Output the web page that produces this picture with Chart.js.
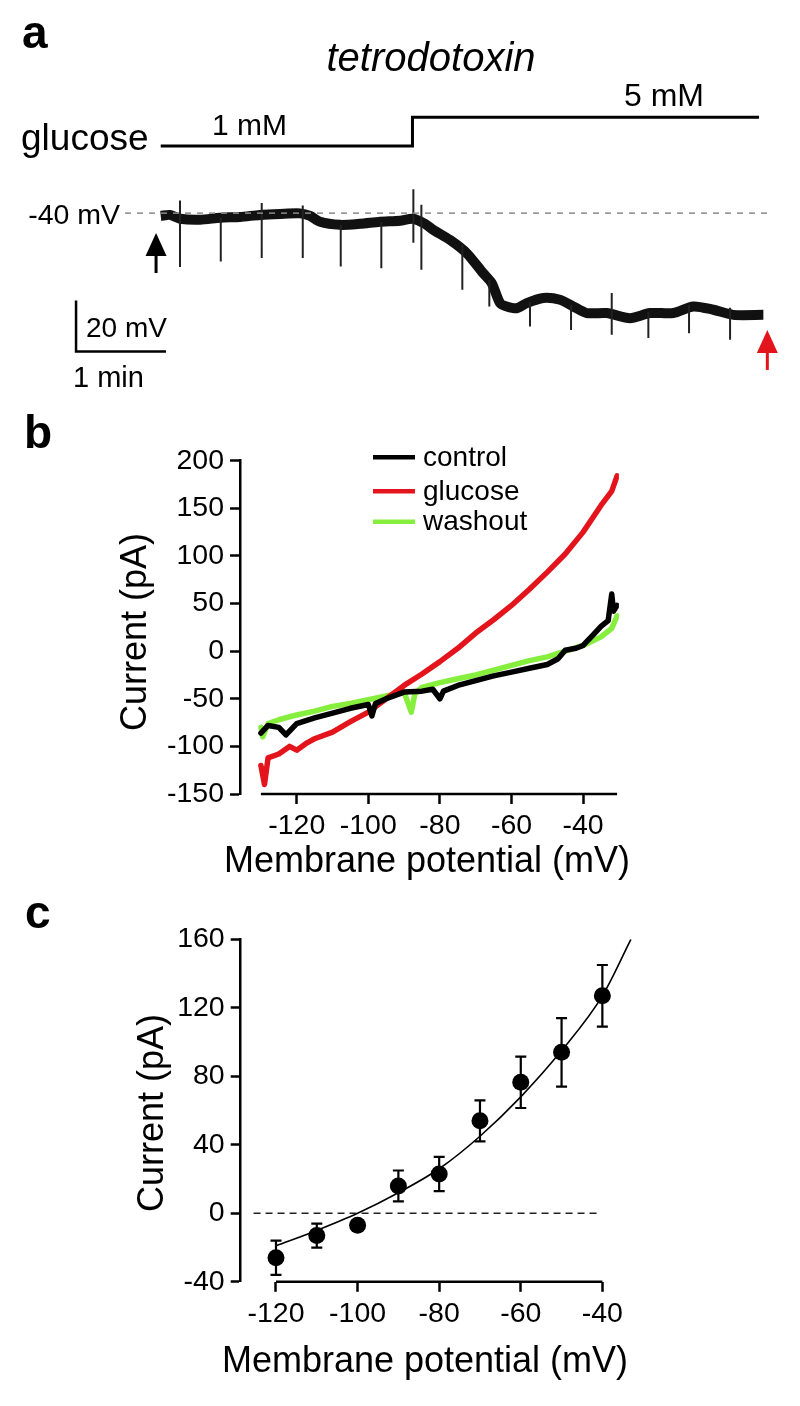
<!DOCTYPE html>
<html><head><meta charset="utf-8">
<script src="https://cdn.jsdelivr.net/npm/chart.js@4.4.1/dist/chart.umd.min.js"></script>
<style>
html,body{margin:0;padding:0;background:#fff;}
#wrap{position:relative;width:800px;height:1406px;overflow:hidden;}
canvas{position:absolute;left:0;}
</style></head><body>
<div id="wrap">
<canvas id="ca" width="800" height="400" style="top:0"></canvas>
<canvas id="cb" width="800" height="480" style="top:400px"></canvas>
<canvas id="cc" width="800" height="526" style="top:880px"></canvas>
</div>
<script>
const FONT = "'Liberation Sans', Arial, Helvetica, sans-serif";

// ---------- Panel a : membrane potential trace ----------
const traceTime = [0, 0.103, 0.214, 0.437, 0.659, 0.881, 1.103, 1.326, 1.548, 1.659, 1.770, 1.992, 2.214, 2.437, 2.659, 2.803, 2.937, 3.026, 3.214, 3.400, 3.581, 3.678, 3.770, 3.844, 3.956, 4.067, 4.251, 4.437, 4.584, 4.733, 4.956, 5.214, 5.437, 5.696, 5.918, 6.140, 6.362, 6.696];
const traceMv = [-41.1, -40.7, -42.2, -42.6, -41.8, -41.5, -40.7, -40.3, -40.1, -41.1, -43.4, -44.6, -44.2, -43.4, -43.0, -42.2, -44.2, -46.5, -50.5, -55.7, -63.5, -67.5, -75.3, -76.6, -77.3, -75.3, -73.3, -74.0, -76.6, -79.2, -79.2, -81.2, -79.2, -79.2, -76.6, -77.9, -79.9, -79.9];
const spikeTime = [0.214, 0.667, 1.122, 1.578, 2.0, 2.451, 2.807, 2.896, 3.351, 3.651, 4.103, 4.559, 5.011, 5.418, 5.870, 6.326];
const spikeTopMv = [-35, -41.8, -36, -37, -44.6, -43.4, -30.6, -36.7, -52.4, -66.2, -74.8, -76.0, -71.3, -78.7, -76.0, -77.1];
const spikeBottomMv = [-61.1, -59.0, -57.6, -57.6, -60.9, -61.6, -51.6, -62.2, -70.1, -76.6, -84.5, -85.8, -87.7, -89.0, -87.1, -89.7];
const glucoseTime = [0, 2.797, 6.648];
const glucoseMM = [1, 5, 5];
const holdingMv = -40;
const holdingLineTime = [-0.397, 6.77];

// ---------- Panel b : I-V curves ----------
const controlV = [-130,-128,-125,-123,-120,-115,-110,-105,-100,-99,-98,-95,-90,-85,-82,-80,-79,-75,-70,-65,-60,-55,-50,-47,-45,-42,-40,-37,-35,-33,-32,-31.5,-30.5];
const controlI = [-86,-78,-80,-88,-76,-70,-65,-60,-56,-68,-55,-50,-43,-42,-40,-50,-42,-36,-31,-26,-22,-18,-14,-8,1,3,6,18,26,32,60,42,48];
const glucoseV = [-130,-129,-128,-125,-122,-120,-117,-115,-110,-105,-100,-95,-90,-85,-80,-75,-70,-65,-60,-55,-50,-45,-40,-35,-32,-30.5];
const glucoseI = [-120,-140,-112,-108,-100,-104,-96,-92,-85,-74,-64,-50,-36,-24,-11,3,19,33,48,65,83,102,125,153,168,184];
const washoutV = [-130,-129.5,-128,-125,-120,-115,-110,-105,-100,-95,-90,-88,-87,-85,-80,-75,-70,-65,-60,-55,-50,-45,-40,-35,-32,-30.5];
const washoutI = [-80,-90,-76,-72,-67,-63,-58,-55,-51,-47,-43,-64,-45,-38,-33,-29,-25,-20,-15,-10,-6,0,6,15,24,37];
const bTicksX = [-120,-100,-80,-60,-40];
const bTicksY = [-150,-100,-50,0,50,100,150,200];

// ---------- Panel c : mean I-V ----------
const cVoltage = [-120,-110,-100,-90,-80,-70,-60,-50,-40];
const cCurrent = [-26,-13,-7,16,23,54,76.5,94,127];
const cSem = [10,7,3,9,10,12,15,20,18];
const fitVoltage = [-120,-110,-100,-90,-80,-70,-60,-50,-40,-33];
const fitCurrent = [-19,-10,0,12,26,45,68,95,127,160];
const zeroLineV = [-125.5,-41];
const cTicksX = [-120,-100,-80,-60,-40];
const cTicksY = [-40,0,40,80,120,160];

const pts = (xs, ys) => xs.map((x,i)=>({x, y: ys[i]}));
const baseOpts = {responsive:false, animation:false, events:[], plugins:{legend:{display:false}, tooltip:{enabled:false}}};

// ===== Panel a =====
const spikeData = [];
spikeTime.forEach((t,i)=>{ spikeData.push({x:t,y:spikeTopMv[i]},{x:t,y:spikeBottomMv[i]},{x:t,y:null}); });

function drawArrow(ctx, x, yTop, yBot, color){
  ctx.save();
  ctx.fillStyle = color; ctx.strokeStyle = color;
  ctx.beginPath(); ctx.moveTo(x, yTop); ctx.lineTo(x-10.5, yTop+23); ctx.lineTo(x+10.5, yTop+23); ctx.closePath(); ctx.fill();
  ctx.lineWidth = 3; ctx.beginPath(); ctx.moveTo(x, yTop+20); ctx.lineTo(x, yBot); ctx.stroke();
  ctx.restore();
}

const panelAPlugin = {
  id:'panelA',
  afterDatasetsDraw(chart){
    const ctx = chart.ctx, xs = chart.scales.x, ys = chart.scales.y;
    ctx.save();
    ctx.fillStyle = '#000'; ctx.textBaseline = 'alphabetic'; ctx.textAlign = 'left';
    ctx.font = `bold 46px ${FONT}`; ctx.fillText('a', 22, 48);
    ctx.font = `italic 40px ${FONT}`; ctx.textAlign = 'center'; ctx.fillText('tetrodotoxin', 431, 71);
    ctx.textAlign = 'left';
    ctx.font = `37px ${FONT}`; ctx.fillText('glucose', 21, 150);
    ctx.font = `30px ${FONT}`; ctx.fillText('1 mM', 212, 135);
    ctx.font = `32px ${FONT}`; ctx.fillText('5 mM', 624, 106);
    ctx.font = `28.5px ${FONT}`; ctx.textAlign = 'right'; ctx.fillText('-40 mV', 120, 224);
    ctx.textAlign = 'left';
    ctx.font = `28px ${FONT}`; ctx.fillText('20 mV', 86, 337);
    ctx.font = `29px ${FONT}`; ctx.fillText('1 min', 73, 387);
    // scale bar (20 mV, 1 min)
    const sbT = -0.941, sbV = -94.3;
    const x0 = xs.getPixelForValue(sbT), x1 = xs.getPixelForValue(sbT + 1);
    const y0 = ys.getPixelForValue(sbV), y1 = ys.getPixelForValue(sbV + 20);
    ctx.strokeStyle = '#000'; ctx.lineWidth = 2.5; ctx.lineCap = 'butt';
    ctx.beginPath(); ctx.moveTo(x0, y1); ctx.lineTo(x0, y0); ctx.lineTo(x1, y0); ctx.stroke();
    // arrows
    drawArrow(ctx, xs.getPixelForValue(-0.052), ys.getPixelForValue(-47.8), ys.getPixelForValue(-63.5), '#000');
    drawArrow(ctx, xs.getPixelForValue(6.74), ys.getPixelForValue(-85.8), ys.getPixelForValue(-101.5), '#e3141b');
    ctx.restore();
  }
};

new Chart(document.getElementById('ca'), {
  type:'line',
  data:{datasets:[
    {data: pts(holdingLineTime, holdingLineTime.map(()=>holdingMv)), borderColor:'#8a8a8a', borderWidth:1.5, borderDash:[6,6], pointRadius:0},
    {data: spikeData, borderColor:'#222', borderWidth:2, pointRadius:0, spanGaps:false},
    {data: pts(traceTime, traceMv), borderColor:'#111', borderWidth:10, pointRadius:0, tension:0.25, borderJoinStyle:'round', borderCapStyle:'butt'},
    {data: pts(glucoseTime, glucoseMM), yAxisID:'yG', borderColor:'#000', borderWidth:3, pointRadius:0, stepped:'before'}
  ]},
  options:{...baseOpts, layout:{padding:0},
    scales:{
      x:{type:'linear', display:false, min:-1.786, max:7.103},
      y:{type:'linear', display:false, min:-113.3, max:43.6},
      yG:{type:'linear', display:false, min:-34.28, max:21.28}
    }},
  plugins:[panelAPlugin]
});

// ===== Panel b =====
const tickStyle = {color:'#000', font:{family:FONT, size:28.5}, maxRotation:0, autoSkip:false};
const panelBPlugin = {
  id:'panelB',
  afterDraw(chart){
    const ctx = chart.ctx, xs = chart.scales.x;
    ctx.save();
    ctx.fillStyle = '#000';
    ctx.font = `bold 46px ${FONT}`; ctx.textAlign='left'; ctx.textBaseline='alphabetic';
    ctx.fillText('b', 24, 48);
    // detached x axis line over the data range
    ctx.strokeStyle = '#000'; ctx.lineWidth = 2.5;
    const yb = chart.chartArea.bottom;
    ctx.beginPath(); ctx.moveTo(xs.getPixelForValue(-130), yb); ctx.lineTo(xs.getPixelForValue(-30.5), yb); ctx.stroke();
    // titles
    ctx.font = `36px ${FONT}`; ctx.textAlign='center'; ctx.textBaseline='middle';
    ctx.fillText('Membrane potential (mV)', 427, 462);
    ctx.save(); ctx.translate(136, 232); ctx.rotate(-Math.PI/2); ctx.fillText('Current (pA)', 0, 0); ctx.restore();
    // legend
    const ly = [57.3, 91.2, 121.7];
    ctx.font = `28px ${FONT}`; ctx.textAlign='left';
    chart.data.datasets.forEach((ds,i)=>{
      ctx.strokeStyle = ds.borderColor; ctx.lineWidth = 4.5;
      ctx.beginPath(); ctx.moveTo(373, ly[i]); ctx.lineTo(415, ly[i]); ctx.stroke();
      ctx.fillStyle = '#000'; ctx.fillText(ds.label, 423, ly[i]+1);
    });
    ctx.restore();
  }
};
const ivLine = {borderWidth:5.5, pointRadius:0, borderJoinStyle:'round', borderCapStyle:'round'};
new Chart(document.getElementById('cb'), {
  type:'line',
  data:{datasets:[
    {label:'control', data: pts(controlV, controlI), borderColor:'#000', ...ivLine},
    {label:'glucose', data: pts(glucoseV, glucoseI), borderColor:'#e3141b', ...ivLine},
    {label:'washout', data: pts(washoutV, washoutI), borderColor:'#86ee3c', ...ivLine}
  ]},
  options:{...baseOpts, layout:{padding:{top:60.7, right:181.1, left:0, bottom:0}},
    scales:{
      x:{type:'linear', min:-135.84, max:-30,
        afterBuildTicks: s => { s.ticks = bTicksX.map(v=>({value:v})); },
        afterFit: s => { s.height = 86; },
        ticks:{...tickStyle, padding:5},
        grid:{drawOnChartArea:false, drawTicks:true, tickLength:10, tickWidth:2.5, tickColor:'#000'},
        border:{display:false}},
      y:{type:'linear', min:-150, max:200,
        afterBuildTicks: s => { s.ticks = bTicksY.map(v=>({value:v})); },
        afterFit: s => { s.width = 240; },
        ticks:{...tickStyle, padding:6},
        grid:{drawOnChartArea:false, drawTicks:true, tickLength:10, tickWidth:2.5, tickColor:'#000'},
        border:{display:true, color:'#000', width:2.5}}
    }},
  plugins:[panelBPlugin]
});

// ===== Panel c =====
const panelCPlugin = {
  id:'panelC',
  beforeDatasetsDraw(chart){
    const ctx = chart.ctx, xs = chart.scales.x, ys = chart.scales.y;
    ctx.save(); ctx.strokeStyle='#000'; ctx.lineWidth=2.2;
    cVoltage.forEach((v,i)=>{
      const x = xs.getPixelForValue(v);
      const yt = ys.getPixelForValue(cCurrent[i]+cSem[i]), yB = ys.getPixelForValue(cCurrent[i]-cSem[i]);
      ctx.beginPath(); ctx.moveTo(x, yt); ctx.lineTo(x, yB);
      ctx.moveTo(x-5.5, yt); ctx.lineTo(x+5.5, yt);
      ctx.moveTo(x-5.5, yB); ctx.lineTo(x+5.5, yB); ctx.stroke();
    });
    ctx.restore();
  },
  afterDraw(chart){
    const ctx = chart.ctx, xs = chart.scales.x;
    ctx.save(); ctx.fillStyle='#000';
    ctx.font = `bold 46px ${FONT}`; ctx.textAlign='left'; ctx.textBaseline='alphabetic';
    ctx.fillText('c', 25, 48);
    ctx.strokeStyle='#000'; ctx.lineWidth=2.5;
    const yb = chart.chartArea.bottom;
    ctx.beginPath(); ctx.moveTo(xs.getPixelForValue(-120), yb); ctx.lineTo(xs.getPixelForValue(-40), yb); ctx.stroke();
    ctx.font = `36px ${FONT}`; ctx.textAlign='center'; ctx.textBaseline='middle';
    ctx.fillText('Membrane potential (mV)', 425, 482);
    ctx.save(); ctx.translate(153, 233); ctx.rotate(-Math.PI/2); ctx.fillText('Current (pA)', 0, 0); ctx.restore();
    ctx.restore();
  }
};
new Chart(document.getElementById('cc'), {
  type:'line',
  data:{datasets:[
    {data: pts(zeroLineV, zeroLineV.map(()=>0)), borderColor:'#222', borderWidth:1.5, borderDash:[7,5], pointRadius:0},
    {data: pts(fitVoltage, fitCurrent), borderColor:'#000', borderWidth:1.6, pointRadius:0, cubicInterpolationMode:'monotone'},
    {data: pts(cVoltage, cCurrent), showLine:false, pointRadius:8.5, pointBackgroundColor:'#000', pointBorderWidth:0}
  ]},
  options:{...baseOpts, layout:{padding:{top:59.3, right:165, left:0, bottom:0}},
    scales:{
      x:{type:'linear', min:-128.65, max:-32,
        afterBuildTicks: s => { s.ticks = cTicksX.map(v=>({value:v})); },
        afterFit: s => { s.height = 124.2; },
        ticks:{...tickStyle, padding:5},
        grid:{drawOnChartArea:false, drawTicks:true, tickLength:10, tickWidth:2.5, tickColor:'#000'},
        border:{display:false}},
      y:{type:'linear', min:-40, max:160,
        afterBuildTicks: s => { s.ticks = cTicksY.map(v=>({value:v})); },
        afterFit: s => { s.width = 240.7; },
        ticks:{...tickStyle, padding:6},
        grid:{drawOnChartArea:false, drawTicks:true, tickLength:10, tickWidth:2.5, tickColor:'#000'},
        border:{display:true, color:'#000', width:2.5}}
    }},
  plugins:[panelCPlugin]
});
</script>
</body></html>
